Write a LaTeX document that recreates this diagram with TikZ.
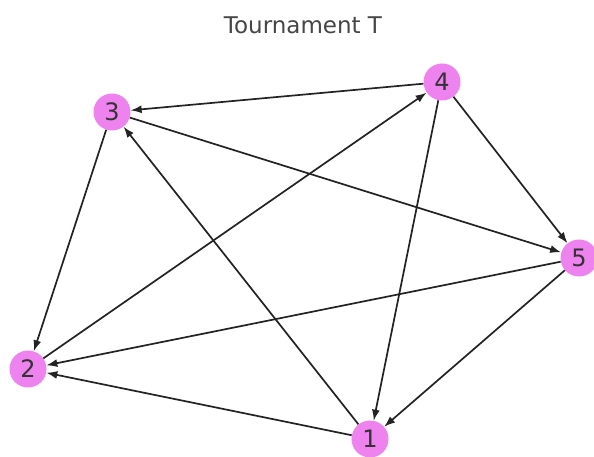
\documentclass[tikz,border=0pt]{standalone}
\usepackage{fontspec}
\setmainfont{DejaVu Sans}
\usetikzlibrary{arrows.meta}
\definecolor{nodeviolet}{RGB}{238,130,238}
\definecolor{edgegray}{RGB}{35,35,35}
\definecolor{titlegray}{RGB}{70,70,70}
\begin{document}
\begin{tikzpicture}[x=1pt,y=-1pt,
  vtx/.style={circle,fill=nodeviolet,minimum size=37pt,inner sep=0pt,font=\fontsize{24}{24}\selectfont,text=black!80},
  edge/.style={draw=edgegray,line width=1.7pt,-{Latex[length=11pt,width=8pt]}}]
\useasboundingbox (0,0) rectangle (594,457);
\fill[white] (0,0) rectangle (594,457);
\node[text=titlegray,font=\fontsize{23}{23}\selectfont] (title) at (303,25) {Tournament T};
\node[vtx] (n3) at (112,112) {3};
\node[vtx] (n4) at (442,82) {4};
\node[vtx] (n5) at (579,258) {5};
\node[vtx] (n2) at (28,369) {2};
\node[vtx] (n1) at (370,439) {1};
\draw[edge] (n4) -- (n3);
\draw[edge] (n3) -- (n2);
\draw[edge] (n3) -- (n5);
\draw[edge] (n4) -- (n5);
\draw[edge] (n4) -- (n1);
\draw[edge] (n2) -- (n4);
\draw[edge] (n1) -- (n3);
\draw[edge] (n5) -- (n2);
\draw[edge] (n1) -- (n2);
\draw[edge] (n5) -- (n1);
\end{tikzpicture}
\end{document}
